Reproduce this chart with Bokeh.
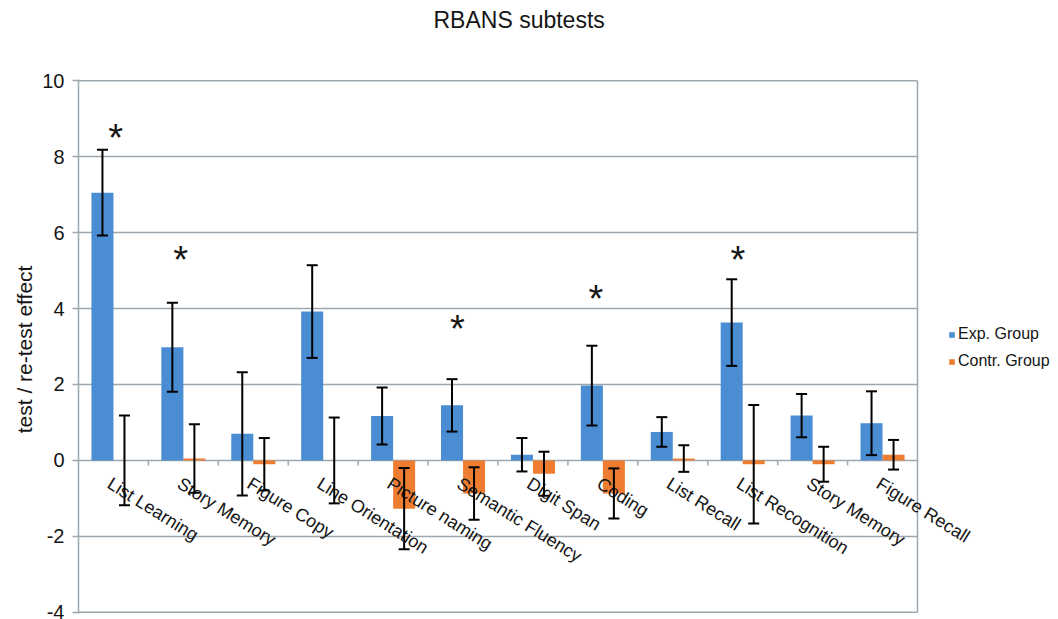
import math
import numpy as np
from bokeh.plotting import figure
from bokeh.models import (Range1d, FixedTicker, Whisker, TeeHead, ColumnDataSource,
                          Legend, LegendItem, Title)
from bokeh.core.properties import value
from bokeh.embed import file_html
from bokeh.resources import INLINE

# ---- data ----
categories = ["List Learning", "Story Memory", "Figure Copy", "Line Orientation",
              "Picture naming", "Semantic Fluency", "Digit Span", "Coding",
              "List Recall", "List Recognition", "Story Memory", "Figure Recall"]
exp_mean = [7.05, 2.98, 0.70, 3.92, 1.17, 1.45, 0.15, 1.97, 0.75, 3.63, 1.18, 0.98]
exp_err = [1.13, 1.17, 1.62, 1.22, 0.75, 0.69, 0.44, 1.05, 0.39, 1.14, 0.57, 0.84]
contr_mean = [0.0, 0.05, -0.10, 0.0, -1.27, -0.87, -0.35, -0.87, 0.05, -0.10, -0.10, 0.15]
contr_err = [1.18, 0.90, 0.69, 1.13, 1.07, 0.69, 0.58, 0.66, 0.35, 1.56, 0.46, 0.39]
signif_x = [1.03, 1.96, 5.92, 7.90, 9.93]   # categories marked with * (1-based)
signif_y = [8.55, 5.32, 3.51, 4.30, 5.34]
y_ticks = [-4, -2, 0, 2, 4, 6, 8, 10]
series_names = ["Exp. Group", "Contr. Group"]

BLUE = "#4A8DD2"
ORANGE = "#EE7D31"
GRID = "#9ca8ae"
FONT = "Liberation Sans"
TXT = "#151515"

n = len(categories)
xs = np.arange(1, n + 1)
bw = 0.315
x_exp = xs - bw / 2
x_con = xs + bw / 2
x_lo, x_hi = 0.5, n + 0.5          # extent of the category area
x_view_end = x_lo + (1058 - 78) / (839 / n)   # frame also covers the legend area

p = figure(width=1058, height=619, x_range=Range1d(x_lo, x_view_end),
           y_range=Range1d(-4.03, 10.03),
           x_axis_type=None, output_backend="svg", toolbar_location=None,
           min_border_left=78, min_border_right=0, min_border_top=79, min_border_bottom=6,
           background_fill_color="white", border_fill_color="white")
p.outline_line_color = None
p.ygrid.visible = False

# titles: spacer closest to the frame, then the main title
p.title.text = ""
p.add_layout(Title(text=" ", text_font_size="14px", standoff=29), "above")
p.add_layout(Title(text="RBANS subtests", align="left", offset=355, standoff=0,
                   text_font=FONT, text_font_size="23px", text_font_style="normal",
                   text_color=TXT), "above")

# y axis
yax = p.yaxis[0]
yax.ticker = FixedTicker(ticks=y_ticks)
yax.major_label_overrides = {t: str(t) for t in y_ticks}
yax.axis_label = "test / re-test  effect"
yax.axis_label_text_font = FONT
yax.axis_label_text_font_size = "21px"
yax.axis_label_text_font_style = "normal"
yax.axis_label_text_color = TXT
yax.axis_label_standoff = 3
yax.major_label_text_font = FONT
yax.major_label_text_font_size = "20px"
yax.major_label_text_color = TXT
yax.major_label_standoff = 8
yax.major_tick_out = 6
yax.major_tick_in = 0
yax.minor_tick_out = 0
yax.minor_tick_in = 0
yax.axis_line_color = GRID
yax.axis_line_width = 1.5
yax.major_tick_line_color = GRID
yax.major_tick_line_width = 1.5

# grid lines and right border limited to the category area
p.segment(x0=[x_lo] * len(y_ticks), y0=y_ticks, x1=[x_hi] * len(y_ticks), y1=y_ticks,
          line_color=GRID, line_width=1.5)
p.segment(x0=[x_hi], y0=[y_ticks[0]], x1=[x_hi], y1=[y_ticks[-1]],
          line_color=GRID, line_width=1.5)

# small tick marks on the zero line between categories
bounds = xs[:-1] + 0.5
p.segment(x0=bounds, y0=[0] * len(bounds), x1=bounds, y1=[-0.13] * len(bounds),
          line_color=GRID, line_width=1.5)

# bars
b1 = p.vbar(x=x_exp, top=exp_mean, bottom=0, width=bw, fill_color=BLUE, line_color=None)
b2 = p.vbar(x=x_con, top=contr_mean, bottom=0, width=bw, fill_color=ORANGE, line_color=None)

# error bars
for xpos, m, e in ((x_exp, exp_mean, exp_err), (x_con, contr_mean, contr_err)):
    src = ColumnDataSource(dict(x=xpos,
                                up=[a + b for a, b in zip(m, e)],
                                lo=[a - b for a, b in zip(m, e)]))
    w = Whisker(source=src, base="x", upper="up", lower="lo",
                line_color="black", line_width=2, level="annotation",
                upper_head=TeeHead(size=11, line_color="black", line_width=2),
                lower_head=TeeHead(size=11, line_color="black", line_width=2))
    p.add_layout(w)

# category labels along the zero line
p.text(x=xs, y=[0] * n, text=categories, angle=-32 * math.pi / 180,
       text_align="left", text_baseline="top", x_offset=1, y_offset=13,
       text_font=value(FONT), text_font_size="18px", text_color=TXT)

# significance stars
p.text(x=signif_x, y=signif_y, text=["*"] * len(signif_x),
       text_align="center", text_baseline="middle", y_offset=2,
       text_font=value(FONT), text_font_size="38px", text_color=TXT)

legend = Legend(items=[LegendItem(label=series_names[0], renderers=[b1]),
                       LegendItem(label=series_names[1], renderers=[b2])],
                location=(870, 240), glyph_width=7, glyph_height=7, label_standoff=3,
                label_text_font=FONT, label_text_font_size="16px", label_text_color=TXT,
                label_height=24, spacing=3, padding=0, margin=0,
                border_line_color=None, background_fill_alpha=0)
p.add_layout(legend)

open("out.html", "w").write(file_html(p, INLINE))
